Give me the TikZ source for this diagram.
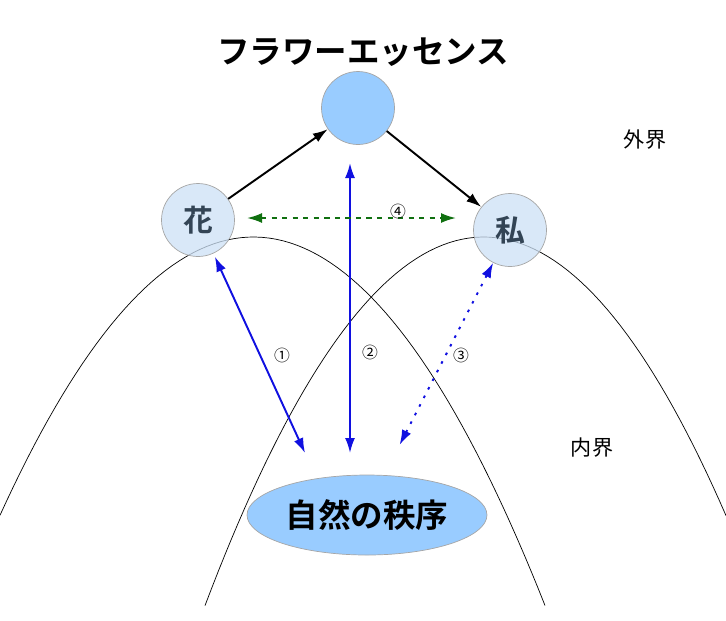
\documentclass[tikz,border=0pt]{standalone}
\usepackage{fontspec}
\setmainfont{Noto Sans CJK JP}
\newfontfamily\jpbold{Noto Sans CJK JP Bold}
\usetikzlibrary{arrows.meta,shapes.geometric}
\definecolor{skyblue}{HTML}{99CCFF}
\definecolor{paleblue}{HTML}{CCE0F5}
\definecolor{slatetxt}{HTML}{334455}
\definecolor{arrowblue}{HTML}{1010E0}
\definecolor{darkgreen}{HTML}{107010}
\begin{document}
\begin{tikzpicture}[
		x=0.02cm, y=-0.02cm,
		ball/.style={circle, draw=gray!70, minimum size=1.46cm, inner sep=0pt},
		tag/.style={font=\small, inner sep=1pt},
		link/.style={-{Latex[length=3mm,width=2mm]}, line width=1.1pt},
		bothlink/.style={{Latex[length=3mm,width=2mm]}-{Latex[length=3mm,width=2mm]}, line width=1.1pt}
	]
  \useasboundingbox (0,0) rectangle (726,620);
  % boundary curves
  \draw[thin] plot[domain=0:545, samples=80] (\x, {237+0.00433*(\x-253.4)*(\x-253.4)});
  \draw[thin] plot[domain=205:726, samples=80] (\x, {237+0.00474*(\x-483.7)*(\x-483.7)});
  % nodes
  \node (title) at (363,52) {\jpbold\fontsize{18.5}{22}\selectfont フラワーエッセンス};
  \node (essence) [ball, fill=skyblue] at (358,108) {};
  \node (flower) [ball, fill=paleblue, fill opacity=0.75, text opacity=1, text=slatetxt] at (198,220) {\jpbold\fontsize{17}{20}\selectfont 花};
  \node (self) [ball, fill=paleblue, fill opacity=0.75, text opacity=1, text=slatetxt] at (510,230) {\jpbold\fontsize{17}{20}\selectfont 私};
  \node (order) [ellipse, draw=gray!70, fill=skyblue, inner sep=0pt, minimum width=4.8cm, minimum height=1.6cm] at (367,515) {\jpbold\fontsize{18.5}{22}\selectfont 自然の秩序};
  \node (outer) [font=\fontsize{12}{14}\selectfont] at (645,140) {外界};
  \node (inner) [font=\fontsize{12}{14}\selectfont] at (592,448) {内界};
  % helper points
  \coordinate (top2) at (350,163);
  \coordinate (bot2) at (350,453);
  \coordinate (bot1) at (305,453);
  \coordinate (bot3) at (398,448);
  \coordinate (top4l) at (247,218);
  \coordinate (top4r) at (456,218);
  % connectors
  \draw[link] (flower) -- (essence);
  \draw[link] (essence) -- (self);
  \draw[bothlink, arrowblue] (top2) -- (bot2);
  \draw[bothlink, arrowblue, shorten <=2pt] (flower) -- (bot1);
  \draw[bothlink, arrowblue, dash pattern=on 1.5pt off 4pt, shorten <=2pt] (bot3) -- (self);
  \draw[bothlink, darkgreen, dashed] (top4l) -- (top4r);
  % labels
  \node (n1) [tag] at (282,355) {①};
  \node (n2) [tag] at (370,352) {②};
  \node (n3) [tag] at (461,355) {③};
  \node (n4) [tag] at (398,211) {④};
\end{tikzpicture}
\end{document}
